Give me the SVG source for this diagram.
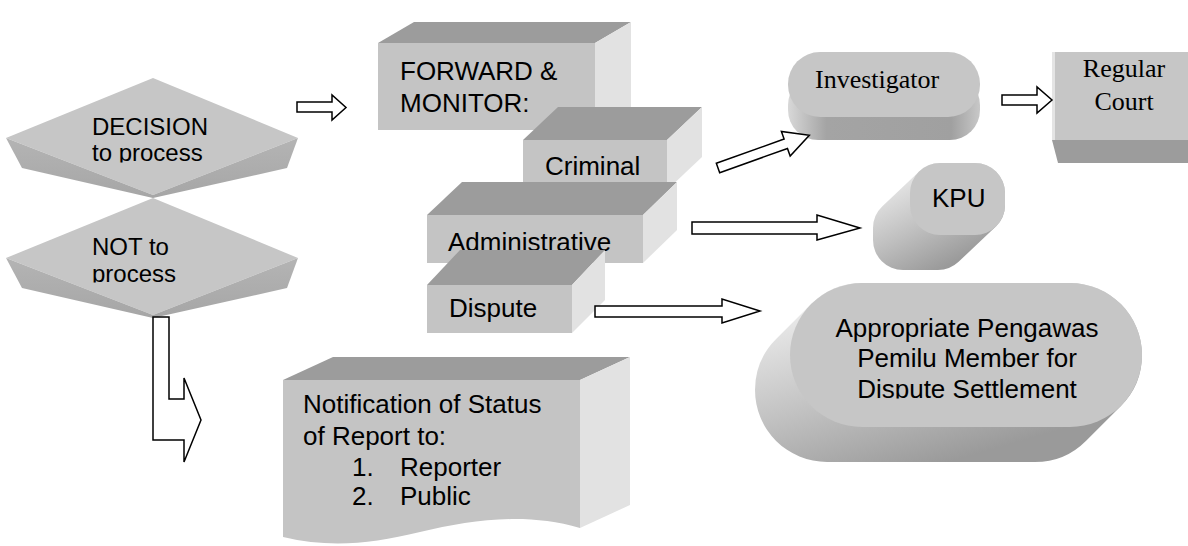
<svg xmlns="http://www.w3.org/2000/svg" width="1188" height="546" viewBox="0 0 1188 546">
<defs>
<style>
.front{fill:#c4c4c4}
.top{fill:#9c9c9c}
.side{fill:#e2e2e2}
.face{fill:#c6c6c6}
.bev{fill:url(#bevg)}
.t{font-family:"Liberation Sans",Arial,sans-serif;font-size:26px;fill:#000}
.td{font-family:"Liberation Sans",Arial,sans-serif;font-size:24px;fill:#000}
.ts{font-family:"Liberation Serif","Times New Roman",serif;font-size:26px;fill:#000}
.arrow{fill:#fff;stroke:#000;stroke-width:1.5;stroke-linejoin:miter}
</style>
<linearGradient id="bevg" x1="0" y1="0" x2="0" y2="1">
<stop offset="0" stop-color="#b4b4b4"/>
<stop offset="1" stop-color="#a6a6a6"/>
</linearGradient>
<linearGradient id="sideg" x1="0" y1="0.2" x2="0.5" y2="1">
<stop offset="0" stop-color="#ececec"/>
<stop offset="0.55" stop-color="#c0c0c0"/>
<stop offset="1" stop-color="#9a9a9a"/>
</linearGradient>
<linearGradient id="invg" x1="0" y1="0" x2="1" y2="0">
<stop offset="0" stop-color="#d8d8d8"/>
<stop offset="0.2" stop-color="#a4a4a4"/>
<stop offset="0.85" stop-color="#a0a0a0"/>
<stop offset="1" stop-color="#c8c8c8"/>
</linearGradient>
<clipPath id="c1"><rect x="0" y="100" width="300" height="62.5"/></clipPath>
<clipPath id="c2"><rect x="0" y="220" width="300" height="62.5"/></clipPath>
<clipPath id="c3"><rect x="780" y="300" width="360" height="98.5"/></clipPath>
</defs>

<g id="decision">
<polygon class="face" points="6,138 153,78 298,138 153,195"/>
<polygon class="bev" points="6,138 153,195 153,198 22,168"/>
<polygon class="bev" points="298,138 287,168 153,198 153,195"/>
<g clip-path="url(#c1)">
<text class="td" x="92" y="135">DECISION</text>
<text class="td" x="92" y="161">to process</text>
</g>
</g>

<g id="not-process">
<polygon class="face" points="6,258 153,198 298,258 153,315"/>
<polygon class="bev" points="6,258 153,315 153,318 22,288"/>
<polygon class="bev" points="298,258 287,288 153,318 153,315"/>
<g clip-path="url(#c2)">
<text class="td" x="92" y="255">NOT to</text>
<text class="td" x="92" y="281.5">process</text>
</g>
</g>

<g id="forward">
<polygon class="top" points="378,43 414,22 631,22 595,43"/>
<polygon class="side" points="595,43 631,22 631,109 595,130"/>
<rect class="front" x="378" y="43" width="217" height="87"/>
<text class="t" x="400" y="80">FORWARD &amp;</text>
<text class="t" x="400" y="112">MONITOR:</text>
</g>

<g id="criminal">
<polygon class="top" points="523,140 558,107 702,107 667,140"/>
<polygon class="side" points="667,140 702,107 702,157 667,190"/>
<rect class="front" x="523" y="140" width="144" height="50"/>
<text class="t" x="545" y="175">Criminal</text>
</g>

<g id="administrative">
<polygon class="top" points="427,215 462,182 677,182 643,215"/>
<polygon class="side" points="643,215 677,182 677,230 643,263"/>
<rect class="front" x="427" y="215" width="216" height="48"/>
<text class="t" x="448" y="251">Administrative</text>
</g>

<g id="dispute">
<polygon class="top" points="427,285 460,250 605,250 572,285"/>
<polygon class="side" points="572,285 605,250 605,300 572,333"/>
<rect class="front" x="427" y="285" width="145" height="48"/>
<text class="t" x="449" y="317">Dispute</text>
</g>

<g id="notification">
<polygon class="top" points="283,380 333,357 630,357 580,380"/>
<polygon class="side" points="580,380 630,357 630,505 580,528"/>
<path class="front" d="M283,380 H580 V528 C525,512 472,520 420,532 C370,544 330,548 283,537 Z"/>
<text class="t" x="303" y="413">Notification of Status</text>
<text class="t" x="303" y="445">of Report to:</text>
<text class="t" x="352" y="476">1.</text>
<text class="t" x="400" y="476">Reporter</text>
<text class="t" x="352" y="505">2.</text>
<text class="t" x="400" y="505">Public</text>
</g>

<g id="investigator">
<rect x="788" y="75" width="192" height="65" rx="30" fill="url(#invg)"/>
<rect class="face" x="788" y="52" width="192" height="65" rx="32"/>
<text class="ts" x="815" y="88">Investigator</text>
</g>

<g id="regular-court">
<rect class="face" x="1052" y="52" width="140" height="88"/>
<polygon class="top" points="1052,140 1192,140 1192,163 1058,163"/>
<rect x="1052" y="52" width="3" height="88" fill="#e4e4e4"/>
<text class="ts" x="1124" y="77" text-anchor="middle">Regular</text>
<text class="ts" x="1124" y="110" text-anchor="middle">Court</text>
</g>

<g id="kpu">
<path fill="url(#sideg)" d="M919.4,171.2 A30,30 0 0 1 940,163 H975 A30,30 0 0 1 1005,193 V205 A30,30 0 0 1 995.6,226.8 L958.6,261.8 A30,30 0 0 1 938,270 H903 A30,30 0 0 1 873,240 V228 A30,30 0 0 1 882.4,206.2 Z"/>
<rect class="face" x="910" y="163" width="95" height="72" rx="30"/>
<text class="t" x="932" y="207">KPU</text>
</g>

<g id="pengawas">
<path fill="url(#sideg)" d="M811.1,304.1 A72,72 0 0 1 862,283 H1070 A72,72 0 0 1 1142,355 A72,72 0 0 1 1120.9,405.9 L1085.9,440.9 A72,72 0 0 1 1035,462 H827 A72,72 0 0 1 755,390 A72,72 0 0 1 776.1,339.1 Z"/>
<rect class="face" x="790" y="283" width="352" height="144" rx="72"/>
<g clip-path="url(#c3)">
<text class="t" x="967" y="337" text-anchor="middle">Appropriate Pengawas</text>
<text class="t" x="967" y="367" text-anchor="middle">Pemilu Member for</text>
<text class="t" x="967" y="397.5" text-anchor="middle">Dispute Settlement</text>
</g>
</g>

<g id="connectors">
<polygon class="arrow" points="297,102 332,102 332,95 346,107.5 332,120 332,112 297,112"/>
<polygon class="arrow" points="1002,95 1037,95 1037,87 1052,100 1037,113 1037,105 1002,105"/>
<polygon class="arrow" points="692,222 817,222 817,215 860,228 817,240 817,234 692,234"/>
<polygon class="arrow" points="595,306 722,306 722,299 760,311 722,323 722,317 595,317"/>
<polygon class="arrow" transform="translate(718,168) rotate(-19.7)" points="0,-5 72,-5 72,-13 97,0 72,13 72,5 0,5"/>
<polygon class="arrow" points="153,317 169,317 169,399 184,399 184,378 201,420 184,462 184,440 153,440"/>
</g>
</svg>
